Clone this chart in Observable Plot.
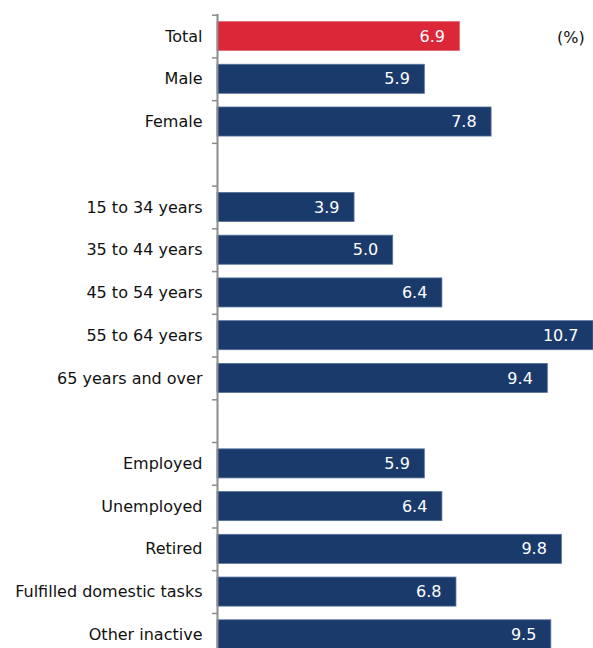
<!DOCTYPE html>
<html>
<head>
<meta charset="utf-8">
<script src="https://cdn.jsdelivr.net/npm/d3@7"></script>
<script src="https://cdn.jsdelivr.net/npm/@observablehq/plot@0.6"></script>
<style>
  html, body { margin: 0; padding: 0; background: #fff; overflow: hidden; }
  #chart { position: relative; width: 593px; }
  #unit { position: absolute; left: 557px; top: 28px; font: 16px "DejaVu Sans", Verdana, sans-serif; color: #111; }
</style>
</head>
<body>
<div id="chart"><div id="unit">(%)</div></div>
<script>
const categories = ["Total", "Male", "Female", "gap1", "15 to 34 years", "35 to 44 years", "45 to 54 years", "55 to 64 years", "65 years and over", "gap2", "Employed", "Unemployed", "Retired", "Fulfilled domestic tasks", "Other inactive"];
const values = [6.9, 5.9, 7.8, null, 3.9, 5.0, 6.4, 10.7, 9.4, null, 5.9, 6.4, 9.8, 6.8, 9.5];
const highlight = ["Total"];

const data = categories.map((c, i) => ({category: c, value: values[i]})).filter(d => d.value != null);

const width = 593, height = 655, marginTop = 14, marginBottom = 0;
const step = (height - marginTop - marginBottom) / categories.length;

const chart = Plot.plot({
  width, height,
  marginLeft: 217, marginRight: 0, marginTop, marginBottom,
  style: {fontFamily: '"DejaVu Sans", Verdana, sans-serif', fontSize: "16px", color: "#111"},
  x: {domain: [0, 10.7], axis: null},
  y: {domain: categories, paddingInner: 0.32, paddingOuter: 0.16, align: 0.55, round: false, label: null},
  marks: [
    Plot.barX(data, {
      x: "value", y: "category",
      fill: d => highlight.includes(d.category) ? "#dc2739" : "#1b3a6c",
      stroke: d => highlight.includes(d.category) ? "#e56a75" : "#56719b",
      strokeWidth: 0.8
    }),
    Plot.text(data, {
      x: "value", y: "category", text: d => d.value.toFixed(1),
      textAnchor: "end", dx: -15, fill: "white", fontSize: 16
    }),
    Plot.axisY({
      tickSize: 0, tickPadding: 15, label: null,
      tickFormat: d => d.startsWith("gap") ? "" : d,
      fontSize: 16
    }),
    Plot.ruleY(categories, {
      y: d => d, x1: 0, x2: 0, insetLeft: -5, dy: -step / 2,
      stroke: "#8c8c8c", strokeWidth: 1.5
    }),
    Plot.ruleX([0], {stroke: "#8c8c8c", strokeWidth: 2})
  ]
});
document.getElementById("chart").prepend(chart);
</script>
</body>
</html>
